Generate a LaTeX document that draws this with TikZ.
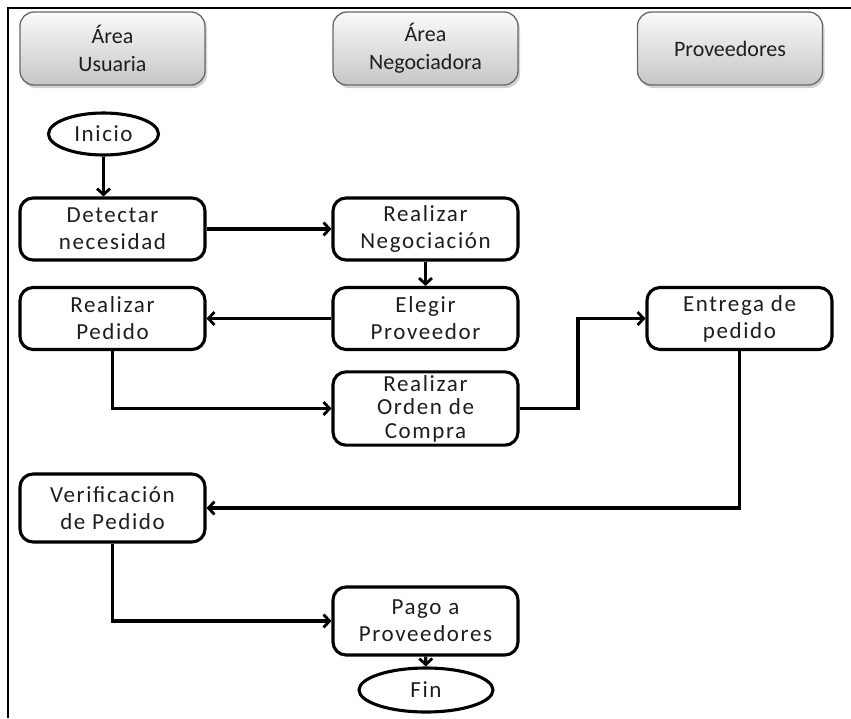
\documentclass[tikz,border=0pt]{standalone}
\usepackage{fontspec}
\setmainfont{Carlito}
\usetikzlibrary{arrows.meta,shapes.geometric,shadows}
\definecolor{hdrtop}{HTML}{FAFAFA}
\definecolor{hdrbot}{HTML}{C6C6C6}
\definecolor{hdredge}{HTML}{686868}
\definecolor{txt}{HTML}{1E1E1E}
\tikzset{
  lane/.style={draw=hdredge, line width=1.3pt, rounded corners=14pt,
    top color=hdrtop, bottom color=hdrbot,
    drop shadow={shadow xshift=2pt, shadow yshift=-3pt, opacity=0.35},
    minimum width=185pt, minimum height=73pt, align=center,
    font=\fontsize{22}{28}\selectfont, text=txt},
  stepbox/.style={draw=black, line width=3.1pt, rounded corners=13pt, fill=white,
    minimum width=185pt, minimum height=62pt, align=center,
    font=\fontsize{23}{27}\selectfont\addfontfeature{LetterSpace=7}, text=txt},
  term/.style={draw=black, line width=3.1pt, ellipse, fill=white,
    font=\fontsize{23}{27}\selectfont\addfontfeature{LetterSpace=7}, text=txt},
  flow/.style={draw=black, line width=3.1pt, -{Straight Barb[length=6pt,width=13pt,line width=2.8pt]}},
}
\begin{document}
\begin{tikzpicture}[x=1pt,y=-1pt]
\useasboundingbox (0,0) rectangle (851,718);
\fill[white] (0,0) rectangle (851,718);
% page frame: top and left rules only
\draw[line width=2.8pt] (851,8) -- (8,8) -- (8,718);

% swimlane headers
\node[lane] (hu) at (112.5,48.5) {Área\\Usuaria};
\node[lane] (hn) at (425.5,48.5) {Área\\Negociadora};
\node[lane] (hp) at (730,48.5) {Proveedores};

% process steps
\node[term, minimum width=110pt, minimum height=42pt] (ini) at (103.5,134) {Inicio};
\node[stepbox] (det) at (112.5,229) {Detectar\\necesidad};
\node[stepbox] (neg) at (425.5,229) {Realizar\\Negociación};
\node[stepbox] (ele) at (425.5,318.5) {Elegir\\Proveedor};
\node[stepbox] (ped) at (112.5,318.5) {Realizar\\Pedido};
\node[stepbox, font=\fontsize{23}{23.5}\selectfont\addfontfeature{LetterSpace=7}] (ord) at (425.5,408.5) {Realizar\\Orden de\\Compra};
\node[stepbox] (ent) at (739.5,318.5) {Entrega de\\pedido};
\node[stepbox, minimum height=68pt] (ver) at (112.5,508) {Verificación\\de Pedido};
\node[stepbox, minimum height=68pt] (pag) at (425.5,621) {Pago a\\Proveedores};
\node[term, minimum width=134pt, minimum height=44pt] (fin) at (426,690) {Fin};

% connectors
\draw[flow] (ini) -- (ini |- det.north);
\draw[flow] (det) -- (neg);
\draw[flow] (neg) -- (ele);
\draw[flow] (ele) -- (ped);
\draw[flow] (ped.south) |- (ord.west);
\coordinate (bend1) at (578,408.5);
\draw[flow] (ord.east) -- (bend1) |- (ent.west);
\draw[flow] (ent.south) |- (ver.east);
\draw[flow] (ver.south) |- (pag.west);
\draw[flow] (pag) -- (fin);
\end{tikzpicture}
\end{document}
